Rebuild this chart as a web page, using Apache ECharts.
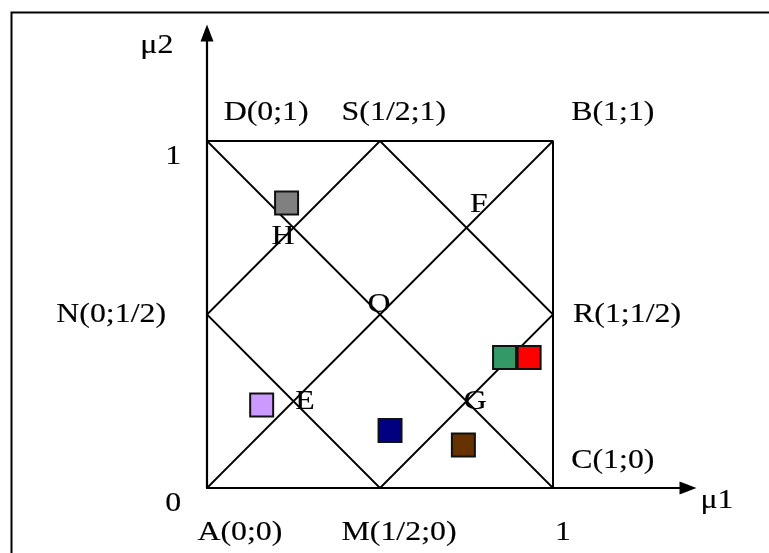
<!DOCTYPE html>
<html>
<head>
<meta charset="utf-8">
<script src="https://cdn.jsdelivr.net/npm/echarts@6/dist/echarts.min.js"></script>
<style>
html,body{margin:0;padding:0;background:#fff;}
#chart{width:769px;height:553px;}
</style>
</head>
<body>
<div id="chart"></div>
<script>
// Geometry of the diagram (unit square in the mu1/mu2 plane)
const squarePath = [[0,0],[0,1],[1,1],[1,0],[0,0]];
const diagonalAB = [[0,0],[1,1]];
const diagonalDC = [[0,1],[1,0]];
const diamondNSRM = [[0,0.5],[0.5,1],[1,0.5],[0.5,0],[0,0.5]];

// Marked points (square markers)
const markerNames = ['gray','lilac','navy','green','red','brown'];
const markerX = [0.230, 0.158, 0.529, 0.860, 0.931, 0.741];
const markerY = [0.821, 0.239, 0.166, 0.376, 0.376, 0.124];
const markerColors = ['#808080','#cc99ff','#000080','#339966','#ff0000','#663300'];

// Text annotations
const labelTexts = ['μ2','1','D(0;1)','S(1/2;1)','B(1;1)','F','H','N(0;1/2)','O','R(1;1/2)','E','G','C(1;0)','0','μ1','A(0;0)','M(1/2;0)','1'];
const labelX = [-0.145,-0.098,0.171,0.540,1.173,0.786,0.220,-0.277,0.497,1.214,0.283,0.775,1.173,-0.098,1.474,0.095,0.555,1.029];
const labelY = [1.274,0.954,1.081,1.081,1.081,0.816,0.723,0.499,0.527,0.499,0.248,0.248,0.078,-0.046,-0.037,-0.130,-0.130,-0.130];

const chart = echarts.init(document.getElementById('chart'), null, {renderer:'canvas'});

const lineSeries = (data, w) => ({
  type:'line', data: data, symbol:'none', silent:true, z:2,
  lineStyle:{color:'#000', width:w}
});

const series = [
  lineSeries(squarePath, 2),
  lineSeries(diagonalAB, 1.8),
  lineSeries(diagonalDC, 1.8),
  lineSeries(diamondNSRM, 1.8)
];

markerNames.forEach((n, i) => {
  series.push({
    type:'scatter', name:n, z:5,
    data:[[markerX[i], markerY[i]]],
    symbol:'rect', symbolSize:[23,23],
    itemStyle:{color:markerColors[i], borderColor:'#111', borderWidth:2, opacity:1}
  });
});

series.push({
  type:'custom', z:6, clip:false, silent:true,
  data: labelTexts.map((t,i) => [labelX[i], labelY[i]]),
  renderItem: function(params, api){
    const p = api.coord([api.value(0), api.value(1)]);
    return {
      type:'text', x:p[0], y:p[1], scaleX:1.18, scaleY:1,
      style:{
        text: labelTexts[params.dataIndex],
        fontSize:27, fontFamily:'"Liberation Serif", "Times New Roman", serif',
        fill:'#000', stroke:'#000', lineWidth:0.15,
        align:'center', verticalAlign:'middle'
      }
    };
  }
});

chart.setOption({
  animation:false,
  backgroundColor:'#fff',
  grid:{left:207, top:33, width:481, height:455, containLabel:false},
  xAxis:{
    type:'value', min:0, max:1.3902,
    axisLine:{show:true, onZero:false, symbol:['none','triangle'], symbolSize:[13,17],
      lineStyle:{color:'#000', width:2.2}},
    axisTick:{show:false}, axisLabel:{show:false}, splitLine:{show:false}
  },
  yAxis:{
    type:'value', min:0, max:1.3112,
    axisLine:{show:true, onZero:false, symbol:['none','triangle'], symbolSize:[13,17],
      lineStyle:{color:'#000', width:2.2}},
    axisTick:{show:false}, axisLabel:{show:false}, splitLine:{show:false}
  },
  graphic:[{
    type:'rect', left:9, top:10, z:0,
    shape:{width:800, height:600},
    style:{fill:'none', stroke:'#000', lineWidth:2}
  }],
  series: series
});
</script>
</body>
</html>
